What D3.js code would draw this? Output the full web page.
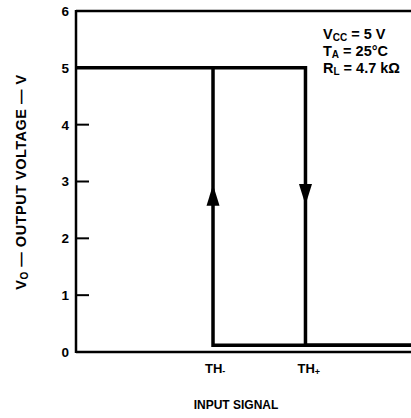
<!DOCTYPE html>
<html>
<head>
<meta charset="utf-8">
<script src="https://cdn.jsdelivr.net/npm/d3@7"></script>
<style>
  body { margin: 0; background: #fff; }
  text { font-family: "Liberation Sans", Arial, sans-serif; font-weight: bold; fill: #000; }
</style>
</head>
<body>
<div id="chart"></div>
<script>
// output levels (V) and input thresholds (arbitrary input units 0..10)
const yTicks = [0, 1, 2, 3, 4, 5, 6];
const thLow = 4.09;   // TH-
const thHigh = 6.85;  // TH+
const vHigh = 5;
const vLow = 0.12;

// transfer curve: high branch falls at TH+, low branch rises at TH-
const fallBranch = [[0, vHigh], [thHigh, vHigh], [thHigh, vLow], [10, vLow]];
const riseBranch = [[10, vLow], [thLow, vLow], [thLow, vHigh]];
// arrow positions [input, output, direction]
const arrows = [[thLow, 2.75, "up"], [thHigh, 2.78, "down"]];
const xTickLabels = [{v: thLow, base: "TH", sub: "-"}, {v: thHigh, base: "TH", sub: "+"}];
const notes = [["V", "CC", " = 5 V"], ["T", "A", " = 25°C"], ["R", "L", " = 4.7 kΩ"]];

let width = 411, height = 418;
let margin = {top: 11, right: 0, bottom: 66, left: 76};

let svg = d3.select("#chart").append("svg")
    .attr("width", width)
    .attr("height", height);

let x = d3.scaleLinear().domain([0, 10]).range([margin.left, width - margin.right]);
let y = d3.scaleLinear().domain([0, 6]).range([height - margin.bottom, margin.top]);

// frame: left axis, bottom axis, top border
svg.append("line")
    .attr("x1", x(0)).attr("x2", x(0))
    .attr("y1", y(6) - 1).attr("y2", y(0) + 1)
    .attr("stroke", "#000").attr("stroke-width", 2.5);
svg.append("line")
    .attr("x1", x(0)).attr("x2", x(10))
    .attr("y1", y(0)).attr("y2", y(0))
    .attr("stroke", "#000").attr("stroke-width", 2.5);
svg.append("line")
    .attr("x1", x(0)).attr("x2", x(10))
    .attr("y1", y(6)).attr("y2", y(6))
    .attr("stroke", "#000").attr("stroke-width", 2.5);

// y ticks (inward) and labels
svg.append("g")
    .selectAll("line")
    .data(yTicks.filter(function(d) { return d > 0 && d < 5; }))
    .enter().append("line")
    .attr("x1", x(0)).attr("x2", x(0) + 13)
    .attr("y1", function(d) { return y(d); })
    .attr("y2", function(d) { return y(d); })
    .attr("stroke", "#000").attr("stroke-width", 2);

svg.append("g")
    .selectAll("text")
    .data(yTicks)
    .enter().append("text")
    .attr("x", x(0) - 7)
    .attr("y", function(d) { return y(d); })
    .attr("dy", "0.36em")
    .attr("text-anchor", "end")
    .attr("font-size", 13.5)
    .text(function(d) { return d; });

// curve
let line = d3.line()
    .x(function(d) { return x(d[0]); })
    .y(function(d) { return y(d[1]); });

[fallBranch, riseBranch].forEach(function(b) {
    svg.append("path")
        .datum(b)
        .attr("d", line)
        .attr("fill", "none")
        .attr("stroke", "#000")
        .attr("stroke-width", 3.5);
});

// arrowheads
svg.append("g")
    .selectAll("path")
    .data(arrows)
    .enter().append("path")
    .attr("d", function(d) {
        let cx = x(d[0]), cy = y(d[1]);
        let s = d[2] === "up" ? -1 : 1;
        return "M" + (cx - 6.5) + "," + (cy - s * 10) +
            "L" + (cx + 6.5) + "," + (cy - s * 10) +
            "L" + cx + "," + (cy + s * 11) + "Z";
    })
    .attr("fill", "#000");

// x tick labels
let xl = svg.append("g")
    .selectAll("text")
    .data(xTickLabels)
    .enter().append("text")
    .attr("x", function(d) { return x(d.v) - 8; })
    .attr("y", y(0) + 21)
    .attr("font-size", 13);
xl.append("tspan").text(function(d) { return d.base; });
xl.append("tspan")
    .attr("font-size", 9)
    .attr("dy", function(d) { return d.sub === "-" ? 1 : 2; })
    .text(function(d) { return d.sub; });

// x axis title
svg.append("text")
    .attr("x", 236)
    .attr("y", 409)
    .attr("text-anchor", "middle")
    .attr("font-size", 12)
    .text("INPUT SIGNAL");

// y axis title
let yt = svg.append("text")
    .attr("transform", "translate(26,182) rotate(-90)")
    .attr("text-anchor", "middle")
    .attr("font-size", 14.5)
    .attr("letter-spacing", 0.5);
yt.append("tspan").text("V");
yt.append("tspan").attr("font-size", 10).attr("dy", 2).text("O");
yt.append("tspan").attr("dy", -2).text(" — OUTPUT VOLTAGE — V");

// conditions
let nt = svg.append("g")
    .selectAll("text")
    .data(notes)
    .enter().append("text")
    .attr("x", 323)
    .attr("y", function(d, i) { return 39 + i * 17; })
    .attr("font-size", 14.5);
nt.append("tspan").text(function(d) { return d[0]; });
nt.append("tspan").attr("font-size", 10).attr("dy", 2).text(function(d) { return d[1]; });
nt.append("tspan").attr("dy", -2).text(function(d) { return d[2]; });
</script>
</body>
</html>
